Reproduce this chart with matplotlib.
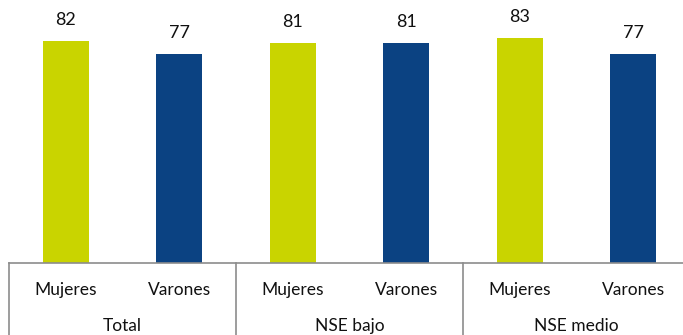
import matplotlib.pyplot as plt
import matplotlib.transforms as mtransforms

groups = ['Total', 'NSE bajo', 'NSE medio']
sexes = ['Mujeres', 'Varones']
mujeres = [82, 81, 83]
varones = [77, 81, 77]

colors = {'Mujeres': '#C9D400', 'Varones': '#0B4282'}
line_col = '#8C8C8C'

plt.rcParams['font.family'] = ['Lato', 'DejaVu Sans']

W, H = 683, 335
fig = plt.figure(figsize=(W / 100, H / 100), dpi=100)
# plot area: baseline at y=263 px, groups 227 px wide starting at x=9
ax = fig.add_axes([9 / W, (H - 263) / H, 681 / W, 263 / H])

values = []
for m, v in zip(mujeres, varones):
    values += [m, v]
xs = list(range(len(values)))
cols = [colors[sexes[i % 2]] for i in xs]

bars = ax.bar(xs, values, width=0.405, color=cols)
for x, val in zip(xs, values):
    ax.annotate(f'{val}', (x, val), xytext=(0, 9.5), textcoords='offset points',
                ha='center', va='bottom', fontsize=13, color='#111111')

ax.set_xlim(-0.5, len(values) - 0.5)
ax.set_ylim(0, 263 / 2.71)
for s in ax.spines.values():
    s.set_visible(False)
ax.set_xticks([])
ax.set_yticks([])

trans = mtransforms.blended_transform_factory(ax.transData, ax.transAxes)
ax.plot([-0.5, len(values) - 0.5], [0, 0], color=line_col, lw=1.2,
        transform=trans, clip_on=False)
for i in range(len(groups) + 1):
    xb = 2 * i - 0.5
    ax.plot([xb, xb], [0, -0.4], color=line_col, lw=1.2,
            transform=trans, clip_on=False)

# category labels below the baseline
px = 1 / 263
for x in xs:
    ax.text(x, -27 * px, sexes[x % 2], transform=trans, ha='center',
            va='center', fontsize=12.5, color='#111111')
for i, g in enumerate(groups):
    ax.text(2 * i + 0.5, -63 * px, g, transform=trans, ha='center',
            va='center', fontsize=12.5, color='#111111')

fig.savefig('out.png', dpi=100)
